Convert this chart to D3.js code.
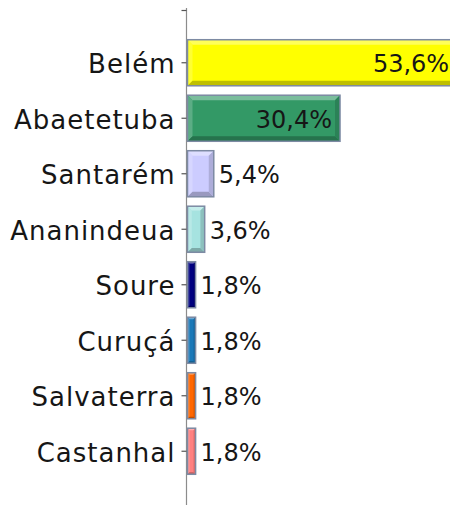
<!DOCTYPE html>
<html><head><meta charset="utf-8">
<script src="https://cdn.jsdelivr.net/npm/d3@7"></script>
<style>html,body{margin:0;padding:0;background:#fff;overflow:hidden}</style>
</head><body>
<svg id="c" width="450" height="505"></svg>
<script>
const categories = ["Belém","Abaetetuba","Santarém","Ananindeua","Soure","Curuçá","Salvaterra","Castanhal"];
const values = [53.6, 30.4, 5.4, 3.6, 1.8, 1.8, 1.8, 1.8];
const valueLabels = ["53,6%","30,4%","5,4%","3,6%","1,8%","1,8%","1,8%","1,8%"];
const barColors = ["#FFFF00","#339966","#CCCCFF","#A6E3E0","#000080","#1A78B8","#FF6600","#FF8080"];

const svg = d3.select("#c");
const axisX = 186.5;
const x = d3.scaleLinear().domain([0, 60]).range([axisX, axisX + 303]);
const y = d3.scaleBand().domain(categories).range([35, 479]).paddingInner(0.17).paddingOuter(0.085);

svg.append("line").attr("x1", axisX).attr("x2", axisX).attr("y1", 8).attr("y2", 505)
  .attr("stroke", "#8c8c8c").attr("stroke-width", 1.2);
svg.append("line").attr("x1", axisX - 5).attr("x2", axisX).attr("y1", 10.5).attr("y2", 10.5)
  .attr("stroke", "#555").attr("stroke-width", 1.2);

const g = svg.selectAll("g.bar").data(categories).enter().append("g").attr("class", "bar");

g.each(function(c, i) {
  const sel = d3.select(this);
  const x0 = x(0) + 1, x1 = x(values[i]);
  const y0 = y(c), y1 = y(c) + y.bandwidth();
  const w = x1 - x0, h = y1 - y0;
  const b = Math.max(1.5, Math.min(5, w / 4));
  const base = d3.color(barColors[i]);
  const hi = d3.interpolateRgb(base, "#ffffff")(0.35);
  const hi2 = d3.interpolateRgb(base, "#ffffff")(0.2);
  const sh = d3.interpolateRgb(base, "#000000")(0.25);
  const sh2 = d3.interpolateRgb(base, "#000000")(0.15);
  sel.append("rect").attr("x", x0).attr("y", y0).attr("width", w).attr("height", h).attr("fill", base);
  const poly = (pts, fill) => sel.append("polygon").attr("points", pts.map(p => p.join(",")).join(" ")).attr("fill", fill);
  poly([[x0, y0], [x1, y0], [x1 - b, y0 + b], [x0 + b, y0 + b]], hi);
  poly([[x0, y0], [x0 + b, y0 + b], [x0 + b, y1 - b], [x0, y1]], hi2);
  poly([[x0, y1], [x0 + b, y1 - b], [x1 - b, y1 - b], [x1, y1]], sh);
  poly([[x1, y0], [x1, y1], [x1 - b, y1 - b], [x1 - b, y0 + b]], sh2);
  sel.append("rect").attr("x", x0).attr("y", y0).attr("width", w).attr("height", h)
    .attr("fill", "none").attr("stroke", "#7d8aa3").attr("stroke-width", 1.5);
  sel.append("line").attr("x1", axisX - 5).attr("x2", axisX).attr("y1", y0 + h / 2).attr("y2", y0 + h / 2)
    .attr("stroke", "#555").attr("stroke-width", 1.2);
  sel.append("text").attr("x", axisX - 11).attr("y", y0 + h / 2 + 1).attr("dy", "0.36em")
    .attr("text-anchor", "end").attr("font-family", "DejaVu Sans").attr("font-size", 26)
    .attr("letter-spacing", 1).attr("fill", "#161616").text(c);
  const inside = values[i] > 20;
  sel.append("text").attr("x", inside ? x1 - 8 : x1 + 5).attr("y", y0 + h / 2 + 1).attr("dy", "0.36em")
    .attr("text-anchor", inside ? "end" : "start").attr("font-family", "DejaVu Sans").attr("font-size", 24)
    .attr("fill", "#161616").text(valueLabels[i]);
});
</script>
</body></html>
